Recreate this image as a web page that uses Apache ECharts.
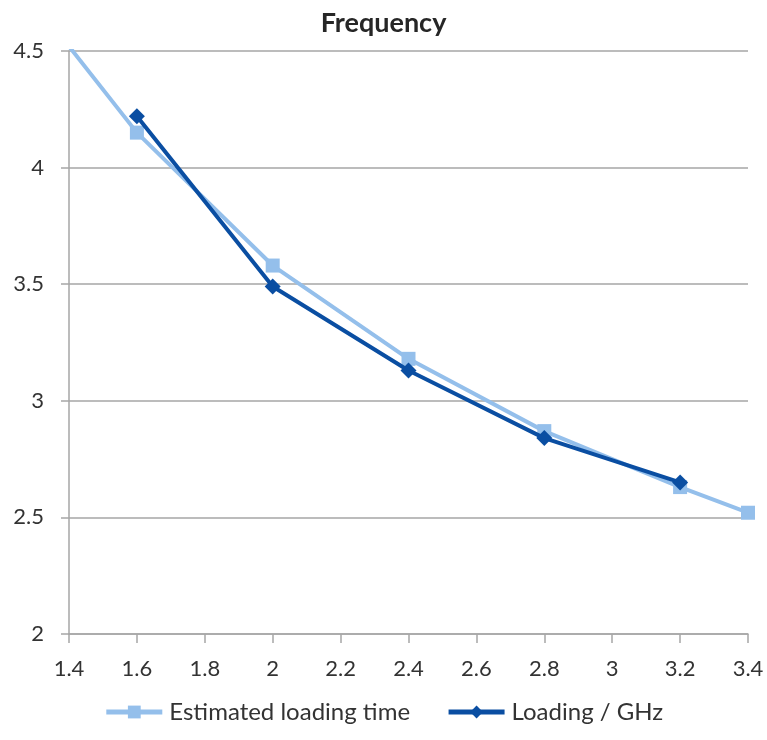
<!DOCTYPE html>
<html>
<head>
<meta charset="utf-8">
<script src="https://cdn.jsdelivr.net/npm/echarts@6/dist/echarts.min.js"></script>
<style>
  html, body { margin: 0; padding: 0; background: #fff; }
  #chart { width: 767px; height: 740px; }
</style>
</head>
<body>
<div id="chart"></div>
<script>
// Frequency (GHz) on the x axis
const frequencies = [1.4, 1.6, 2.0, 2.4, 2.8, 3.2, 3.4];
// Estimated loading time at each frequency
const estimatedLoading = [4.52, 4.15, 3.58, 3.18, 2.87, 2.63, 2.52];
// Measured loading / GHz (no reading at 1.4 and 3.4)
const loadingPerGHz = [null, 4.22, 3.49, 3.13, 2.84, 2.65, null];

const seriesNames = ['Estimated loading time', 'Loading / GHz'];
const FONT = 'Lato, "Open Sans", sans-serif';

const toPairs = (xs, ys) => xs.map((x, i) => [x, ys[i]]).filter(p => p[1] !== null);

const chart = echarts.init(document.getElementById('chart'), null, { renderer: 'canvas' });
chart.setOption({
  animation: false,
  backgroundColor: '#ffffff',
  title: {
    text: 'Frequency',
    left: 'center',
    top: 5,
    textStyle: { fontFamily: FONT, fontSize: 27, fontWeight: 'bold', color: '#262626' }
  },
  legend: {
    bottom: 11,
    left: 'center',
    itemWidth: 56,
    itemHeight: 16,
    itemGap: 36,
    lineStyle: { width: 5 },
    textStyle: { fontFamily: FONT, fontSize: 24, color: '#333', padding: [0, 0, 0, 2] },
    data: seriesNames
  },
  grid: { left: 69, right: 19, top: 51, bottom: 106 },
  xAxis: {
    type: 'value',
    min: 1.4,
    max: 3.4,
    interval: 0.2,
    axisLine: { show: true, lineStyle: { color: '#a6a6a6', width: 1.5 } },
    axisTick: { show: true, length: 9, lineStyle: { color: '#a6a6a6', width: 1.5 } },
    splitLine: { show: false },
    axisLabel: {
      margin: 24,
      fontFamily: FONT, fontSize: 22, color: '#333',
      formatter: v => String(Math.round(v * 10) / 10)
    }
  },
  yAxis: {
    type: 'value',
    min: 2,
    max: 4.5,
    interval: 0.5,
    axisLine: { show: true, lineStyle: { color: '#a6a6a6', width: 1.5 } },
    axisTick: { show: true, length: 8, lineStyle: { color: '#a6a6a6', width: 1.5 } },
    splitLine: { show: true, lineStyle: { color: '#a6a6a6', width: 1.5 } },
    axisLabel: {
      margin: 25,
      fontFamily: FONT, fontSize: 22, color: '#333',
      formatter: v => String(Math.round(v * 10) / 10)
    }
  },
  series: [
    {
      name: seriesNames[0],
      type: 'line',
      clip: true,
      data: toPairs(frequencies, estimatedLoading),
      symbol: 'rect',
      symbolSize: 14,
      lineStyle: { color: '#94bfeb', width: 4 },
      itemStyle: { color: '#94bfeb' },
      z: 2
    },
    {
      name: seriesNames[1],
      type: 'line',
      clip: true,
      data: toPairs(frequencies, loadingPerGHz),
      symbol: 'diamond',
      symbolSize: 16,
      lineStyle: { color: '#0a4ea2', width: 4 },
      itemStyle: { color: '#0a4ea2' },
      z: 3
    }
  ]
});
</script>
</body>
</html>
